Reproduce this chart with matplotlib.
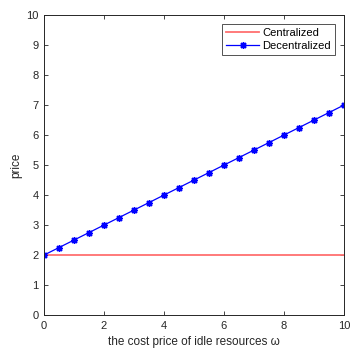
import matplotlib
matplotlib.use("Agg")
import matplotlib.pyplot as plt

# cost price of idle resources (omega)
omega = [0, 0.5, 1, 1.5, 2, 2.5, 3, 3.5, 4, 4.5, 5,
         5.5, 6, 6.5, 7, 7.5, 8, 8.5, 9, 9.5, 10]
price_decentralized = [2, 2.25, 2.5, 2.75, 3, 3.25, 3.5, 3.75, 4, 4.25, 4.5,
                       4.75, 5, 5.25, 5.5, 5.75, 6, 6.25, 6.5, 6.75, 7]
omega_central = [0, 10]
price_centralized = [2, 2]

plt.rcParams["font.family"] = ["Liberation Sans", "DejaVu Sans"]

fig = plt.figure(figsize=(3.52, 3.52), dpi=100)
ax = fig.add_axes([0.125, 0.105, 0.852, 0.852])

ax.plot(omega_central, price_centralized, color="#ff6f6f", lw=1.3, label="Centralized")
ax.plot(omega, price_decentralized, color="#0000ff", lw=0.9, marker=(8, 2, 0),
        markersize=5, markeredgewidth=1.0, label="Decentralized")

ax.set_xlim(0, 10)
ax.set_ylim(0, 10)
ax.set_xticks(range(0, 11, 2))
ax.set_yticks(range(0, 11))
ax.tick_params(direction="in", top=True, right=True, length=3, width=0.6,
               colors="#262626", labelsize=8, pad=4)
for s in ax.spines.values():
    s.set_linewidth(0.7)
    s.set_color("#262626")

ax.set_xlabel("the cost price of idle resources ω", color="#262626", fontsize=8.5,
              labelpad=4)
ax.set_ylabel("price", color="#262626", fontsize=8.5, labelpad=3)

leg = ax.legend(loc="upper right", fontsize=8, frameon=True, fancybox=False,
                edgecolor="#262626", borderaxespad=0.8, handlelength=3.0,
                borderpad=0.35, labelspacing=0.25, handletextpad=0.3)
leg.get_frame().set_linewidth(0.7)

fig.savefig("out.png", dpi=100)
